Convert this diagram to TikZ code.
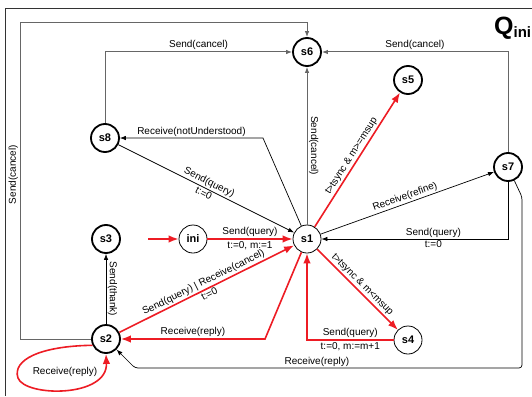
\documentclass[tikz,border=0pt]{standalone}
\usepackage{fontspec}
\setmainfont{Liberation Sans}
\usetikzlibrary{arrows.meta}
\definecolor{trans}{RGB}{237,28,36}

\begin{document}
\begin{tikzpicture}[x=1pt,y=-1pt,>={Latex[length=6pt,width=4.5pt]},
  font=\fontsize{10}{11}\selectfont,every node/.append style={inner sep=1.5pt}]
\tikzset{
  state/.style={circle,draw,line width=1.8pt,minimum size=28pt,inner sep=0pt,font=\fontsize{11}{12}\selectfont\bfseries},
  thinstate/.style={circle,draw,line width=0.8pt,minimum size=28pt,inner sep=0pt,font=\fontsize{11}{12}\selectfont\bfseries},
  redtrans/.style={draw=trans,line width=1.6pt,-{Latex[length=10pt,width=7.5pt]}},
  canceledge/.style={draw=black!60,line width=1pt},
  msgedge/.style={draw=black,line width=0.7pt}
}
\useasboundingbox (0,0) rectangle (532,396);
\clip (0,0) rectangle (532,396);

% frame and title
\draw[black!80,line width=0.8pt] (532,8) -- (5,8) -- (5,396);
\node[anchor=base west,inner sep=0pt,font=\bfseries] (title) at (494,35)
  {{\fontsize{25}{25}\selectfont Q}\raisebox{-2pt}{\fontsize{15}{15}\selectfont ini}};

% states
\node[state] (s6) at (307,52) {s6};
\node[state] (s5) at (408,80) {s5};
\node[state] (s7) at (508,167) {s7};
\node[state] (s8) at (105,138) {s8};
\node[thinstate] (s1) at (307,239) {s1};
\node[thinstate] (ini) at (193,239) {ini};
\node[state] (s3) at (106,239) {s3};
\node[state] (s2) at (106,339) {s2};
\node[thinstate] (s4) at (408,340) {s4};

% cancel edges
\coordinate (lt) at (20,23);
\draw[canceledge,->] (s2) -| node[pos=.76,sloped,above]{Send(cancel)} (lt) -| (s6);
\draw[canceledge,->] (s8) |- node[pos=.75,above]{Send(cancel)} (s6);
\draw[canceledge,->] (s7) |- node[pos=.75,above]{Send(cancel)} (s6);
\draw[canceledge,<-] (s6) -- node[sloped,above]{Send(cancel)} (s1);

% messages
\coordinate (nu) at (263,138);
\draw[msgedge,->] (s1) -- (nu) -- node[above]{Receive(notUnderstood)} (s8);
\draw[msgedge,->] (s8) -- node[sloped,above]{Send(query)} node[sloped,below]{t:=0} (s1);
\draw[msgedge,->] (s1) -- node[sloped,above]{Receive(refine)} (s7);
\draw[msgedge,->] (s7) |- node[pos=.7,above]{Send(query)} node[pos=.7,below]{t:=0} (s1);
\coordinate (r1) at (522,197);
\coordinate (r2) at (522,368);
\coordinate (r3) at (135,368);
\draw[msgedge,->,rounded corners=3pt] (s7) -- (r1) -- (r2) -- node[pos=.53,above]{Receive(reply)} (r3) -- (s2);
\draw[msgedge,<-] (s3) -- node[sloped,above]{Send(thank)} (s2);

% red transitions
\coordinate (start) at (148,239);
\draw[redtrans] (start) -- (ini);
\draw[redtrans] (ini) -- node[above]{Send(query)} node[below]{t:=0, m:=1} (s1);
\draw[redtrans] (s1) -- node[sloped,above]{t>tsync \& m>=msup} (s5);
\draw[redtrans] (s1) -- node[sloped,above]{t>tsync \& m<msup} (s4);
\draw[redtrans] (s4) -| node[pos=.25,above]{Send(query)} node[pos=.25,below]{t:=0, m:=m+1} (s1);
\draw[redtrans] (s2) -- node[sloped,above]{Send(query) | Receive(cancel)} node[sloped,below]{t:=0} (s1);
\coordinate (rb) at (265,339);
\draw[redtrans] (s1) -- (rb) -- node[above]{Receive(reply)} (s2);
\draw[redtrans] (s2.205) .. controls (40,346) and (12,360) .. (18,378)
  .. controls (25,397) and (108,398) .. (s2.south);
\node (looplbl) at (65,372) {Receive(reply)};

\end{tikzpicture}
\end{document}
